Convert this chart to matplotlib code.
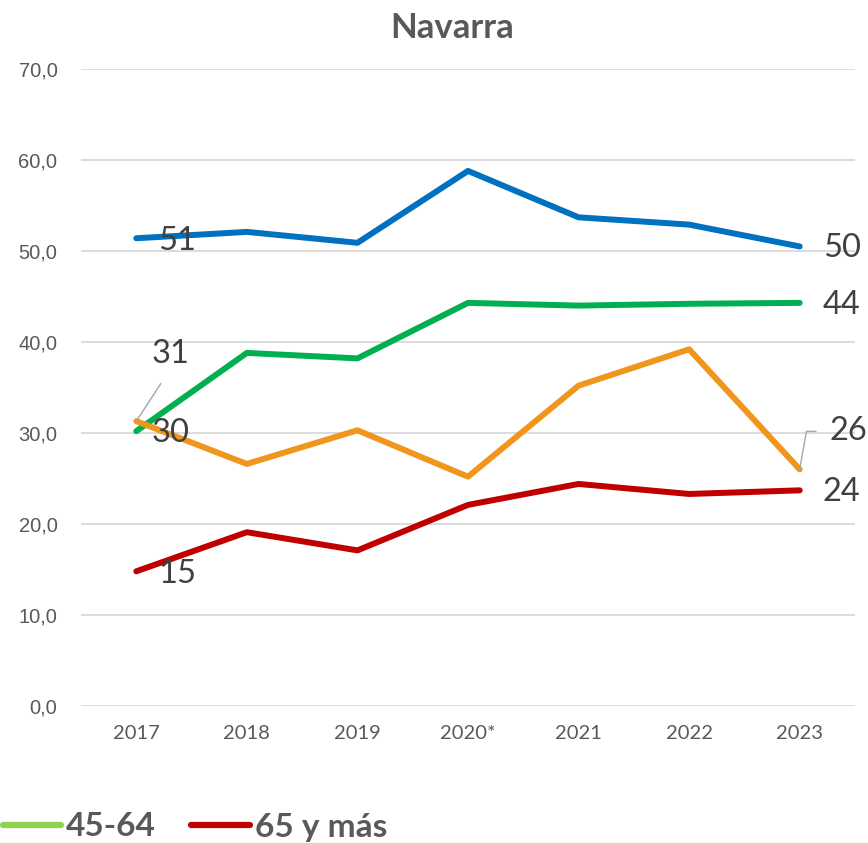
import matplotlib
matplotlib.use("Agg")
import matplotlib.pyplot as plt
from matplotlib.lines import Line2D

years = ["2017", "2018", "2019", "2020*", "2021", "2022", "2023"]
serie_azul = [51.4, 52.1, 50.9, 58.8, 53.7, 52.9, 50.5]
serie_verde = [30.2, 38.8, 38.2, 44.3, 44.0, 44.2, 44.3]
serie_naranja = [31.3, 26.6, 30.3, 25.2, 35.2, 39.2, 26.0]
serie_roja = [14.8, 19.1, 17.1, 22.1, 24.4, 23.3, 23.7]
yticks = [0, 10, 20, 30, 40, 50, 60, 70]

plt.rcParams['font.family'] = ['Lato', 'DejaVu Sans']

fig = plt.figure(figsize=(8.68, 8.43), dpi=100)
ax = fig.add_axes([81/868, 1-706/843, (855-81)/868, (706-69)/843])

x = list(range(len(years)))
ax.plot(x, serie_azul, color="#0070C0", lw=4.3, solid_capstyle="round", zorder=3)
ax.plot(x, serie_verde, color="#00B050", lw=4.3, solid_capstyle="round", zorder=3)
ax.plot(x, serie_naranja, color="#F0961C", lw=4.3, solid_capstyle="round", zorder=3)
ax.plot(x, serie_roja, color="#C00000", lw=4.3, solid_capstyle="round", zorder=3)

ax.set_xlim(-0.5, 6.5)
ax.set_ylim(0, 70)
ax.set_yticks(yticks)
ax.set_yticklabels([f"{v:.1f}".replace(".", ",") for v in yticks],
                   fontfamily="Liberation Sans", fontsize=14.5, color="#595959")
ax.set_xticks(x)
ax.set_xticklabels(years, fontsize=14.5, color="#595959")
ax.tick_params(length=0, pad=14)
ax.tick_params(axis="y", pad=17)
ax.grid(axis="y", color="#D9D9D9", lw=1.3)
ax.set_axisbelow(True)
for s in ax.spines.values():
    s.set_visible(False)

lab = dict(textcoords="offset pixels", fontsize=23.5, color="#404040",
           ha="center", va="center", zorder=5)
ax.annotate("51", (0, serie_azul[0]), xytext=(41, -3), **lab)
ax.annotate("50", (6, serie_azul[6]), xytext=(42, -2), **lab)
ax.annotate("44", (6, serie_verde[6]), xytext=(42, -2), **lab)
ax.annotate("30", (0, serie_verde[0]), xytext=(34, -2), **lab)
ax.annotate("31", (0, serie_naranja[0]), xytext=(34, 67),
            arrowprops=dict(arrowstyle="-", color="#A6A6A6", lw=1, relpos=(0.5, 0),
                            shrinkA=10, shrinkB=0), **lab)
ax.annotate("26", (6, serie_naranja[6]), xytext=(49, 38),
            arrowprops=dict(arrowstyle="-", color="#A6A6A6", lw=1, relpos=(0, 0.5),
                            connectionstyle="angle,angleA=0,angleB=80,rad=0",
                            shrinkA=8, shrinkB=0), **lab)
ax.annotate("24", (6, serie_roja[6]), xytext=(42, -2), **lab)
ax.annotate("15", (0, serie_roja[0]), xytext=(41, -3), **lab)

fig.text(452/868, 1-28/843, "Navarra", fontsize=25,
         fontweight="bold", color="#595959", ha="center", va="center")

handles = [Line2D([], [], color="#92D050", lw=4.5, solid_capstyle="round"),
           Line2D([], [], color="#C00000", lw=4.5, solid_capstyle="round")]
leg = fig.legend(handles, ["45-64", "65 y más"], loc="center left",
                 bbox_to_anchor=(3/868, 1-827/843), ncol=2, frameon=False,
                 handlelength=1.75, handletextpad=0.15, columnspacing=1.05,
                 borderaxespad=0, borderpad=0,
                 prop=dict(family="Lato", weight="bold", size=24))
for t in leg.get_texts():
    t.set_color("#595959")

fig.savefig("out.png", dpi=100)
